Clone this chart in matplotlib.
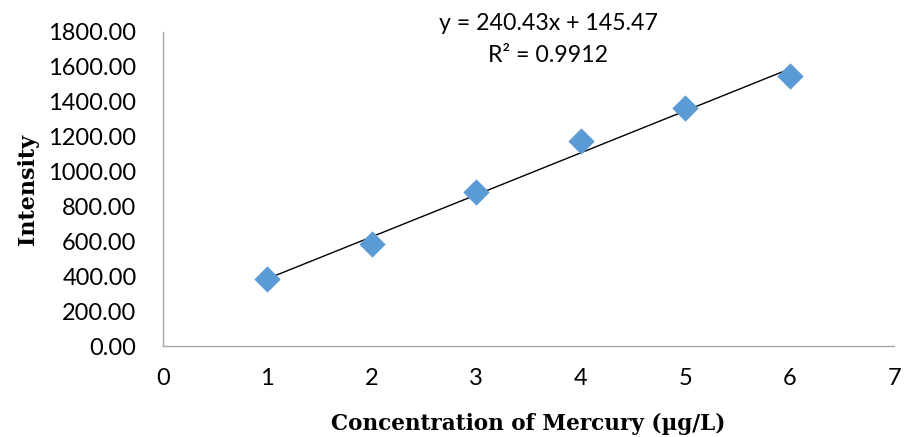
import matplotlib
matplotlib.use("Agg")
import matplotlib.pyplot as plt
import numpy as np

conc = [1, 2, 3, 4, 5, 6]
intensity = [384, 585, 883, 1175, 1364, 1548]
slope = 240.43
intercept = 145.47
eq_text = "y = 240.43x + 145.47"
r2_text = "R² = 0.9912"
yticks = [0, 200, 400, 600, 800, 1000, 1200, 1400, 1600, 1800]
xticks = [0, 1, 2, 3, 4, 5, 6, 7]

fig = plt.figure(figsize=(9.05, 4.37), dpi=100)
ax = fig.add_axes([0.180, 0.208, 0.808, 0.719])

xs = np.array([conc[0], conc[-1]])
ax.plot(xs, slope * xs + intercept, color="black", lw=1.0, zorder=2)
ax.scatter(conc, intensity, marker="D", s=180, color="#5B9BD5", zorder=3, linewidths=0)

ax.set_xlim(0, 7)
ax.set_ylim(0, 1800)
ax.set_xticks(xticks)
ax.set_yticks(yticks)
ax.set_yticklabels([f"{v:.2f}" for v in yticks])
ax.tick_params(length=0, labelsize=17)
ax.tick_params(axis="y", pad=19)
ax.tick_params(axis="x", pad=16)
for lbl in ax.get_xticklabels() + ax.get_yticklabels():
    lbl.set_family("Lato")
for s in ["top", "right"]:
    ax.spines[s].set_visible(False)
for s in ["left", "bottom"]:
    ax.spines[s].set_color("#A6A6A6")
    ax.spines[s].set_linewidth(1.0)

ax.set_ylabel("Intensity", family="DejaVu Serif", fontweight="bold", fontsize=16, labelpad=7)
ax.set_xlabel("Concentration of Mercury (µg/L)", family="DejaVu Serif", fontweight="bold", fontsize=15.5, labelpad=17)

fig.text(548 / 905, 1 - 23 / 437, eq_text, ha="center", va="center", fontsize=16.7, family="Lato")
fig.text(548 / 905, 1 - 56 / 437, r2_text, ha="center", va="center", fontsize=16.7, family="Lato")

fig.savefig("out.png", dpi=100)
